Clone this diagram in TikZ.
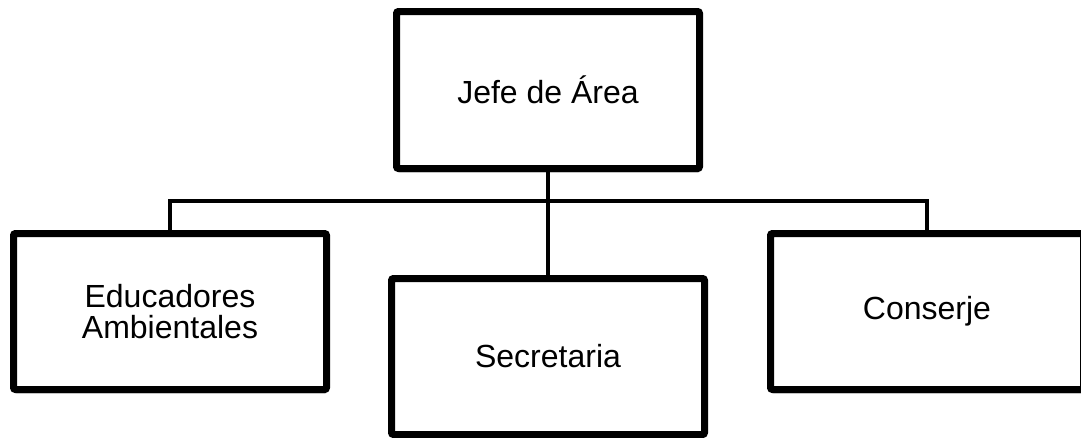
\documentclass[tikz,border=0pt]{standalone}
\usepackage{fontspec}
\setmainfont{Liberation Sans}
\usetikzlibrary{shadows}

\begin{document}
\begin{tikzpicture}[x=1pt, y=-1pt,
    puesto/.style={draw, line width=7pt, rounded corners=2pt, fill=white,
      minimum width=313pt, minimum height=156pt, align=center,
      font=\fontsize{32}{31}\selectfont,
      drop shadow={shadow xshift=1pt, shadow yshift=-4pt, opacity=0.2, fill=black}},
    enlace/.style={draw, line width=3.5pt}]

    \useasboundingbox (0, 0) rectangle (1081, 437);

    \node[puesto, minimum width=303pt, minimum height=157pt] (jefe) at (548, 90) {Jefe de Área};
    \node[puesto] (edu) at (170, 311.5) {Educadores\\Ambientales};
    \node[puesto] (sec) at (548, 356.5) {Secretaria};
    \node[puesto] (cons) at (927, 311.5) {Conserje};

    \coordinate (bus) at (548, 201);

    \path [enlace] (jefe) edge (sec);
    \path [enlace] (edu.north) |- (bus) -| (cons.north);

  \end{tikzpicture}
\end{document}
